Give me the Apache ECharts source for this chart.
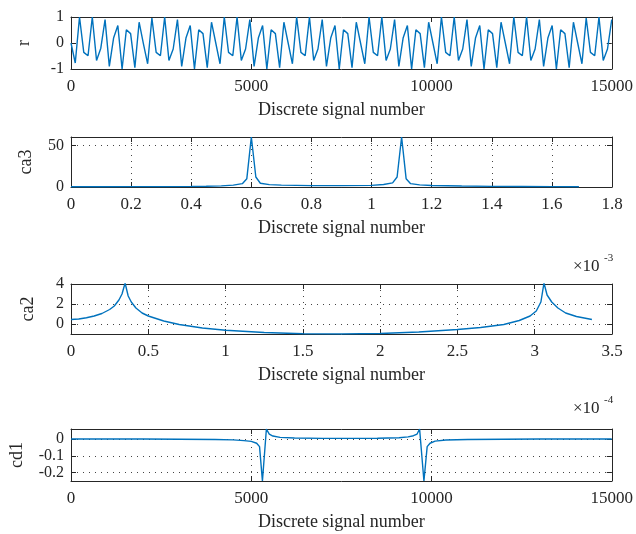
<!DOCTYPE html>
<html>
<head>
<meta charset="utf-8">
<script src="https://cdn.jsdelivr.net/npm/echarts@6/dist/echarts.min.js"></script>
<style>
  html, body { margin: 0; padding: 0; background: #fff; }
  #chart { width: 636px; height: 534px; }
</style>
</head>
<body>
<div id="chart"></div>
<script>
  // r : sampled signal, one sample every rStep
  const rStep = 15000 / 127
  const rValues = [
    0, -0.77, 1.0, -0.36, -0.49, 1.0, -0.67, -0.2, 0.9, -0.9, 0.19, 0.67, -1.0, 0.51, 0.36, -0.95,
    0.8, -0.02, -0.8, 0.96, -0.36, -0.49, 1.0, -0.67, -0.23, 0.9, -0.9, 0.19, 0.67, -1.0, 0.51, 0.36,
    -0.95, 0.8, 0, -0.8, 1.0, -0.36, -0.49, 1.0, -0.67, -0.23, 0.9, -0.9, 0.19, 0.67, -1.0, 0.51,
    0.36, -0.95, 0.8, 0, -0.8, 1.0, -0.36, -0.49, 1.0, -0.67, -0.23, 0.9, -0.9, 0.19, 0.67, -1.0,
    0.51, 0.36, -0.95, 0.8, 0, -0.8, 1.0, -0.36, -0.49, 1.0, -0.67, -0.23, 0.9, -0.9, 0.19, 0.67,
    -1.0, 0.51, 0.36, -0.95, 0.8, 0, -0.8, 1.0, -0.36, -0.49, 1.0, -0.67, -0.23, 0.9, -0.9, 0.19,
    0.67, -1.0, 0.51, 0.36, -0.95, 0.8, 0, -0.8, 1.0, -0.36, -0.49, 1.0, -0.67, -0.23, 0.9, -0.9,
    0.19, 0.67, -1.0, 0.51, 0.36, -0.95, 0.8, 0, -0.8, 0.96, -0.36, -0.49, 1.0, -0.67, -0.23, 0.9
  ]

  // ca3
  const ca3X = [0, 0.1, 0.2, 0.3, 0.4, 0.45, 0.5, 0.54, 0.57, 0.585, 0.6, 0.615, 0.63, 0.66, 0.7, 0.8, 0.9,
    1.0, 1.04, 1.07, 1.085, 1.1, 1.115, 1.13, 1.16, 1.2, 1.3, 1.4, 1.5, 1.6, 1.69]
  const ca3Y = [0.3, 0.35, 0.4, 0.5, 0.7, 0.9, 1.3, 2.2, 4, 10, 60, 12, 4.5, 2.8, 2.2, 1.7, 1.7,
    2.0, 3.0, 5, 12, 60, 10, 4, 2.5, 1.8, 1.2, 0.8, 0.6, 0.45, 0.35]

  // ca2 (x 10^-3)
  const ca2X = [0, 0.05, 0.1, 0.15, 0.2, 0.25, 0.28, 0.31, 0.33, 0.35, 0.37, 0.39, 0.42, 0.46, 0.5, 0.6, 0.7,
    0.85, 1.0, 1.25, 1.5, 1.75, 2.0, 2.25, 2.5, 2.65, 2.8, 2.9, 2.97, 3.01, 3.04, 3.06, 3.08, 3.11, 3.15,
    3.2, 3.27, 3.37]
  const ca2Y = [0.45, 0.5, 0.62, 0.8, 1.05, 1.45, 1.8, 2.4, 3.0, 4.1, 2.8, 2.2, 1.6, 1.1, 0.8, 0.3, -0.05,
    -0.4, -0.62, -0.85, -0.97, -1.0, -0.95, -0.8, -0.55, -0.35, -0.05, 0.35, 0.8, 1.3, 2.2, 4.1, 2.9, 2.2, 1.6,
    1.1, 0.75, 0.45]

  // cd1 (x 10^-4)
  const cd1X = [0, 1000, 2000, 3000, 4000, 4500, 4800, 5000, 5150, 5230, 5310, 5420, 5500, 5600, 5800, 6200,
    7000, 7700, 8500, 9100, 9350, 9500, 9600, 9670, 9790, 9880, 9960, 10100, 10400, 11000, 12000, 13000,
    14000, 15000]
  const cd1Y = [0, 0, 0, -0.001, -0.003, -0.005, -0.009, -0.014, -0.025, -0.045, -0.25, 0.06, 0.03, 0.018,
    0.01, 0.006, 0.004, 0.004, 0.005, 0.008, 0.013, 0.02, 0.03, 0.06, -0.25, -0.045, -0.025, -0.012, -0.006,
    -0.003, -0.001, 0, 0, 0]

  const xTicks = [
    { min: 0, max: 15000, interval: 5000 },
    { min: 0, max: 1.8, interval: 0.2 },
    { min: 0, max: 3.5, interval: 0.5 },
    { min: 0, max: 15000, interval: 5000 }
  ]
  const yTicks = [
    { min: -1, max: 1, values: [-1, 0, 1] },
    { min: 0, max: 60, values: [0, 50] },
    { min: -1, max: 4, values: [0, 2, 4] },
    { min: -0.25, max: 0.06, values: [-0.2, -0.1, 0] }
  ]
  const yNames = ['r', 'ca3', 'ca2', 'cd1']
  const yNameGaps = [38, 36, 34, 45]
  const xName = 'Discrete signal number'

  const axisColor = '#262626'
  const lineColor = '#0072BD'
  const font = 'Liberation Serif'
  const gridTops = [17, 137, 284, 429]
  const gridHeights = [52, 50, 50, 52]

  const dotted = { show: true, lineStyle: { color: '#444', width: 1, type: [1, 5] } }
  const plain = v => String(+v.toFixed(4))

  let grids = [], xAxes = [], yAxes = [], series = []
  for (let i = 0; i < 4; i++) {
    grids.push({ left: 71, right: 24, top: gridTops[i], height: gridHeights[i] })
    let xt = xTicks[i], yt = yTicks[i]
    let base = {
      axisLine: { show: true, onZero: false, lineStyle: { color: axisColor, width: 1 } },
      axisTick: { show: true, inside: true, length: 5, lineStyle: { color: axisColor } }
    }
    xAxes.push(Object.assign({}, base, {
      type: 'value', gridIndex: i, position: 'bottom', min: xt.min, max: xt.max, interval: xt.interval,
      name: xName, nameLocation: 'middle', nameGap: 32,
      nameTextStyle: { fontFamily: font, fontSize: 18, color: axisColor },
      axisLabel: { fontFamily: font, fontSize: 17, color: axisColor, margin: 9, formatter: plain },
      splitLine: i === 0 ? { show: false } : dotted
    }))
    yAxes.push(Object.assign({}, base, {
      type: 'value', gridIndex: i, position: 'left', min: yt.min, max: yt.max,
      name: yNames[i], nameLocation: 'middle', nameGap: yNameGaps[i], nameRotate: 90,
      nameTextStyle: { fontFamily: font, fontSize: 18, color: axisColor },
      axisTick: { show: true, inside: true, length: 5, customValues: yt.values, lineStyle: { color: axisColor } },
      axisLabel: {
        fontFamily: font, fontSize: 16, color: axisColor, margin: 7, customValues: yt.values,
        formatter: plain, hideOverlap: false, showMinLabel: true, showMaxLabel: true
      },
      splitLine: i === 0 ? { show: false } : dotted
    }))
  }
  // box: top and right axes with inward ticks
  for (let i = 0; i < 4; i++) {
    let xt = xTicks[i], yt = yTicks[i]
    xAxes.push({
      type: 'value', gridIndex: i, position: 'top', min: xt.min, max: xt.max, interval: xt.interval,
      axisLine: { show: true, onZero: false, lineStyle: { color: axisColor, width: 1 } },
      axisTick: { show: true, inside: true, length: 5, lineStyle: { color: axisColor } },
      axisLabel: { show: false }, splitLine: { show: false }
    })
    yAxes.push({
      type: 'value', gridIndex: i, position: 'right', min: yt.min, max: yt.max,
      axisLine: { show: true, onZero: false, lineStyle: { color: axisColor, width: 1 } },
      axisTick: { show: true, inside: true, length: 5, customValues: yt.values, lineStyle: { color: axisColor } },
      axisLabel: { show: false, customValues: yt.values }, splitLine: { show: false }
    })
  }

  const pairs = [
    rValues.map((v, k) => [k * rStep, v]),
    ca3X.map((x, k) => [x, ca3Y[k]]),
    ca2X.map((x, k) => [x, ca2Y[k]]),
    cd1X.map((x, k) => [x, cd1Y[k]])
  ]
  for (let i = 0; i < 4; i++) {
    series.push({
      type: 'line', xAxisIndex: i, yAxisIndex: i, data: pairs[i],
      showSymbol: false, clip: true,
      lineStyle: { color: lineColor, width: 1.4 }
    })
  }

  const option = {
    backgroundColor: '#fff',
    animation: false,
    grid: grids,
    xAxis: xAxes,
    yAxis: yAxes,
    series: series,
    graphic: [
      { type: 'text', left: 573, top: 258, style: { text: '×10', font: '17px "Liberation Serif"', fill: axisColor } },
      { type: 'text', left: 604, top: 253, style: { text: '-3', font: '11px "Liberation Serif"', fill: axisColor } },
      { type: 'text', left: 573, top: 400, style: { text: '×10', font: '17px "Liberation Serif"', fill: axisColor } },
      { type: 'text', left: 604, top: 395, style: { text: '-4', font: '11px "Liberation Serif"', fill: axisColor } }
    ]
  }

  const eChart = echarts.init(document.getElementById('chart'), null, { renderer: 'canvas' })
  eChart.setOption(option)
</script>
</body>
</html>
